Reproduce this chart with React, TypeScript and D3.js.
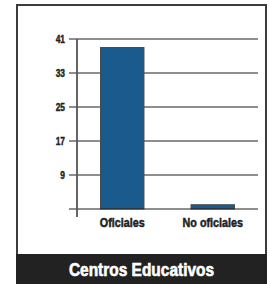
import React from "react";
import * as d3 from "d3";

const categories = ["Oficiales", "No oficiales"];
const values = [39, 2];
const yTicks = [9, 17, 25, 33, 41];
const title = "Centros Educativos";

const W = 270;
const H = 284;
const FONT = "'Liberation Sans', Arial, sans-serif";

// condensed heavy text: squeeze Liberation Sans Bold horizontally, thicken with a stroke
const Narrow = ({ x, y, size, anchor, fill, sx = 0.84, sw = 0.5, children }: any) => (
  <g transform={`translate(${x},${y}) scale(${sx},1)`}>
    <text
      x={0}
      y={0}
      textAnchor={anchor}
      fontFamily={FONT}
      fontWeight="bold"
      fontSize={size}
      fill={fill}
      stroke={fill}
      strokeWidth={sw}
    >
      {children}
    </text>
  </g>
);

const App = () => {
  const left = 77;
  const right = 258;
  const top = 39;
  const bottom = 209;

  const x = d3.scaleBand<string>().domain(categories).range([left, right]).paddingInner(0.52).paddingOuter(0.26);
  const y = d3.scaleLinear().domain([1, 41]).range([bottom, top]);

  return (
    <svg width={W} height={H} style={{ position: "absolute", left: 0, top: 0 }}>
      <rect x={0} y={0} width={W} height={H} fill="#fff" />
      {/* frame */}
      <rect x={17} y={5} width={249} height={250} fill="#fff" stroke="#3c3c3c" strokeWidth={2} />
      {/* grid */}
      {yTicks.map((t) => (
        <g key={t}>
          <line x1={69} x2={right} y1={y(t)} y2={y(t)} stroke="#1e1e1e" strokeWidth={1} />
          <Narrow x={65} y={y(t) + 3.5} size={10} anchor="end" fill="#222" sw={0.4}>
            {t}
          </Narrow>
        </g>
      ))}
      {/* bars */}
      {categories.map((c, i) => (
        <rect
          key={c}
          x={x(c)}
          y={y(values[i])}
          width={x.bandwidth()}
          height={y(1) - y(values[i])}
          fill="#1b5a8d"
          stroke="#4a4a4a"
          strokeWidth={1}
        />
      ))}
      {/* baseline */}
      <line x1={69} x2={right} y1={y(1)} y2={y(1)} stroke="#1e1e1e" strokeWidth={1.2} />
      {/* y axis */}
      <line x1={left} x2={left} y1={top} y2={217} stroke="#555" strokeWidth={1.8} />
      {/* category labels */}
      {categories.map((c) => (
        <Narrow key={c} x={(x(c) ?? 0) + x.bandwidth() / 2} y={226.5} size={12.5} anchor="middle" fill="#222" sx={0.86}>
          {c}
        </Narrow>
      ))}
      {/* title bar */}
      <rect x={16} y={254} width={251} height={30} fill="#222" />
      <Narrow x={141.5} y={276} size={18} anchor="middle" fill="#fff" sx={0.86} sw={0.6}>
        {title}
      </Narrow>
    </svg>
  );
};

export default App;
